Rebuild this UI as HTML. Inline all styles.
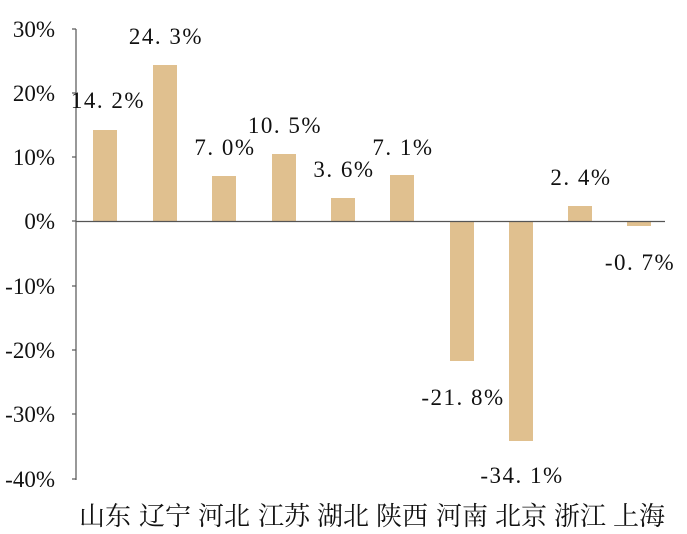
<!DOCTYPE html>
<html><head><meta charset="utf-8"><style>body{margin:0;background:#fff}svg{display:block}</style></head>
<body>
<svg width="687" height="534" xmlns="http://www.w3.org/2000/svg">
<g fill="#E0C08F">
<rect x="93" y="130" width="24" height="91"/>
<rect x="153" y="65" width="24" height="156"/>
<rect x="212" y="176" width="24" height="45"/>
<rect x="272" y="154" width="24" height="67"/>
<rect x="331" y="198" width="24" height="23"/>
<rect x="390" y="175" width="24" height="46"/>
<rect x="450" y="221" width="24" height="140"/>
<rect x="509" y="221" width="24" height="220"/>
<rect x="568" y="206" width="24" height="15"/>
<rect x="627" y="221" width="24" height="5"/>
</g>
<g stroke="#555" stroke-width="1.2">
<line x1="76" y1="29" x2="76" y2="480"/>
<line x1="76" y1="221.5" x2="665" y2="221.5"/>
<line x1="72" y1="29" x2="76" y2="29"/><line x1="72" y1="93" x2="76" y2="93"/>
<line x1="72" y1="157" x2="76" y2="157"/><line x1="72" y1="221" x2="76" y2="221"/>
<line x1="72" y1="286" x2="76" y2="286"/><line x1="72" y1="350" x2="76" y2="350"/>
<line x1="72" y1="414" x2="76" y2="414"/><line x1="72" y1="479" x2="76" y2="479"/>
</g>
<g font-family="Liberation Serif, serif" font-size="23" text-anchor="end" fill="#111">
<text x="55" y="37">30%</text><text x="55" y="101">20%</text><text x="55" y="165">10%</text>
<text x="55" y="229">0%</text><text x="55" y="294">-10%</text><text x="55" y="358">-20%</text>
<text x="55" y="422">-30%</text><text x="55" y="487">-40%</text>
</g>
<g font-family="Liberation Serif, serif" font-size="23" text-anchor="middle" fill="#111" letter-spacing="1.5">
<text x="108" y="108">14. 2%</text>
<text x="166" y="44">24. 3%</text>
<text x="225" y="155">7. 0%</text>
<text x="285" y="133">10. 5%</text>
<text x="344" y="177">3. 6%</text>
<text x="403" y="155">7. 1%</text>
<text x="463" y="405">-21. 8%</text>
<text x="522" y="483">-34. 1%</text>
<text x="581" y="185">2. 4%</text>
<text x="640" y="270">-0. 7%</text>
</g>
<g font-family="Liberation Serif, 'Noto Serif CJK SC', serif" font-size="26" text-anchor="middle" fill="#111">
<text x="105" y="525">山东</text><text x="165" y="525">辽宁</text><text x="224" y="525">河北</text>
<text x="284" y="525">江苏</text><text x="343" y="525">湖北</text><text x="402" y="525">陕西</text>
<text x="462" y="525">河南</text><text x="521" y="525">北京</text><text x="580" y="525">浙江</text>
<text x="639" y="525">上海</text>
</g>
</svg>
</body></html>
